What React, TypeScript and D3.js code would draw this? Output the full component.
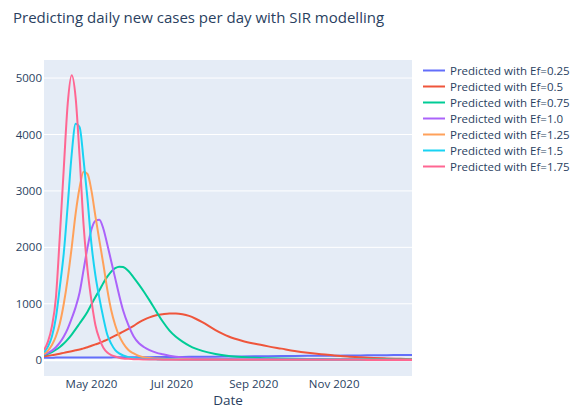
import React from 'react';
import * as d3 from 'd3';

const dates = [
  '2020-03-26', '2020-03-29', '2020-04-01', '2020-04-04', '2020-04-07', '2020-04-10', '2020-04-13', '2020-04-16', '2020-04-19', '2020-04-22',
  '2020-04-25', '2020-04-28', '2020-05-01', '2020-05-04', '2020-05-07', '2020-05-10', '2020-05-13', '2020-05-16', '2020-05-19', '2020-05-22',
  '2020-05-25', '2020-05-29', '2020-06-02', '2020-06-06', '2020-06-10', '2020-06-14', '2020-06-19', '2020-06-24', '2020-06-29', '2020-07-04',
  '2020-07-09', '2020-07-14', '2020-07-19', '2020-07-24', '2020-08-03', '2020-08-13', '2020-08-23', '2020-09-02', '2020-09-12', '2020-09-22',
  '2020-10-02', '2020-10-12', '2020-10-22', '2020-11-01', '2020-11-11', '2020-11-21', '2020-12-01', '2020-12-11', '2020-12-21', '2020-12-30',
];

const ef025 = [45, 45, 45, 46, 46, 46, 47, 47, 47, 48, 48, 48, 49, 49, 49, 50, 50, 50, 51, 51, 52, 52, 53, 53, 54, 54, 55, 56, 57, 58, 58, 59, 60, 61, 63, 65, 67, 69, 71, 73, 75, 77, 79, 81, 83, 85, 87, 89, 91, 93];
const ef050 = [70, 80, 90, 100, 115, 130, 145, 160, 175, 190, 210, 230, 255, 280, 305, 335, 365, 400, 435, 470, 505, 555, 610, 670, 720, 760, 795, 815, 828, 828, 815, 785, 735, 675, 535, 420, 345, 290, 245, 205, 165, 132, 105, 85, 66, 52, 40, 31, 24, 19];
const ef075 = [90, 115, 145, 185, 235, 295, 370, 455, 550, 650, 750, 860, 990, 1120, 1240, 1370, 1480, 1570, 1630, 1658, 1650, 1580, 1465, 1340, 1205, 1060, 870, 685, 530, 415, 330, 260, 205, 165, 110, 75, 55, 42, 35, 30, 26, 23, 21, 19, 18, 17, 16, 15, 14, 13];
const ef100 = [100, 130, 170, 230, 310, 420, 560, 740, 940, 1200, 1600, 2000, 2320, 2470, 2490, 2330, 2050, 1750, 1450, 1150, 880, 620, 420, 300, 230, 180, 135, 105, 80, 62, 50, 42, 36, 32, 26, 22, 19, 17, 15, 14, 13, 12, 12, 11, 11, 10, 10, 10, 9, 9];
const ef125 = [110, 170, 270, 420, 650, 1000, 1450, 2000, 2600, 3060, 3340, 3300, 3000, 2550, 2120, 1700, 1250, 880, 620, 430, 300, 180, 120, 75, 50, 38, 30, 25, 21, 19, 17, 15, 14, 13, 11, 10, 9, 9, 8, 8, 8, 7, 7, 7, 7, 6, 6, 6, 6, 6];
const ef150 = [140, 240, 420, 750, 1300, 1900, 2750, 3650, 4190, 4130, 3550, 2850, 2050, 1500, 1100, 750, 450, 290, 180, 120, 85, 55, 38, 28, 22, 18, 15, 13, 12, 11, 10, 10, 9, 9, 8, 8, 8, 7, 7, 7, 7, 6, 6, 6, 6, 6, 5, 5, 5, 5];
const ef175 = [180, 330, 600, 1100, 2200, 3400, 4550, 5050, 4650, 3600, 2400, 1600, 1050, 620, 380, 220, 135, 90, 65, 45, 32, 24, 18, 15, 13, 12, 11, 10, 10, 9, 9, 9, 9, 8, 8, 8, 8, 7, 7, 7, 7, 6, 6, 6, 6, 6, 5, 5, 5, 5];

const seriesNames = ['Predicted with Ef=0.25', 'Predicted with Ef=0.5', 'Predicted with Ef=0.75', 'Predicted with Ef=1.0',
  'Predicted with Ef=1.25', 'Predicted with Ef=1.5', 'Predicted with Ef=1.75'];
const seriesValues = [ef025, ef050, ef075, ef100, ef125, ef150, ef175];
const colors = ['#636efa', '#EF553B', '#00cc96', '#ab63fa', '#FFA15A', '#19d3f3', '#FF6692'];
const yTicks = [0, 1000, 2000, 3000, 4000, 5000];

const W = 573, H = 410;
const plot = {left: 44, right: 412, top: 60, bottom: 376};
const font = '"Open Sans", verdana, arial, sans-serif';
const textColor = '#2a3f5f';

export default function App() {
  const parse = d3.timeParse('%Y-%m-%d');
  const xs = dates.map(d => parse(d) as Date);

  const x = d3.scaleTime()
    .domain([xs[0], xs[xs.length - 1]])
    .range([plot.left, plot.right]);
  const y = d3.scaleLinear().domain([-280, 5320]).range([plot.bottom, plot.top]);

  const line = d3.line<number>()
    .x((d, i) => x(xs[i]))
    .y(d => y(d))
    .curve(d3.curveMonotoneX);

  const xTicks = x.ticks(d3.timeMonth.every(2) as d3.TimeInterval);
  const fmt = d3.timeFormat('%b %Y');

  return (
    <div style={{position: 'absolute', left: 0, top: 0}}>
      <svg width={W} height={H} style={{display: 'block', fontFamily: font}}>
        <rect x={0} y={0} width={W} height={H} fill="#fff"/>
        <defs>
          <clipPath id="plotclip">
            <rect x={plot.left} y={plot.top} width={plot.right - plot.left} height={plot.bottom - plot.top}/>
          </clipPath>
        </defs>
        <rect x={plot.left} y={plot.top} width={plot.right - plot.left} height={plot.bottom - plot.top} fill="#E5ECF6"/>

        {yTicks.map(t => (
          <g key={`y-${t}`}>
            {t !== 0 && <line x1={plot.left} x2={plot.right} y1={y(t)} y2={y(t)} stroke="#fff" strokeWidth={1}/>}
            <text x={42} y={y(t)} dy="0.35em" textAnchor="end" fontSize={11.5} fill={textColor}>{t}</text>
          </g>
        ))}
        <line x1={plot.left} x2={plot.right} y1={y(0)} y2={y(0)} stroke="#fff" strokeWidth={2}/>

        {xTicks.map((t, i) => (
          <text key={`x-${i}`} x={x(t)} y={388} textAnchor="middle" fontSize={11.5} fill={textColor}>{fmt(t)}</text>
        ))}

        <g clipPath="url(#plotclip)">
          {seriesValues.map((vals, i) => (
            <path key={`s-${i}`} d={line(vals) || ''} fill="none" stroke={colors[i]} strokeWidth={2}
                  strokeLinejoin="round"/>
          ))}
        </g>

        <text x={13} y={23} fontSize={15} fill={textColor}>Predicting daily new cases per day with SIR modelling</text>
        <text x={(plot.left + plot.right) / 2} y={405} textAnchor="middle" fontSize={13.5} fill={textColor}>Date</text>

        {seriesNames.map((name, i) => {
          const cy = 70.5 + i * 16;
          return (
            <g key={`l-${i}`}>
              <line x1={423} x2={445} y1={cy} y2={cy} stroke={colors[i]} strokeWidth={2}/>
              <text x={450} y={cy} dy="0.35em" fontSize={11.5} fill={textColor}>{name}</text>
            </g>
          );
        })}
      </svg>
    </div>
  );
}
